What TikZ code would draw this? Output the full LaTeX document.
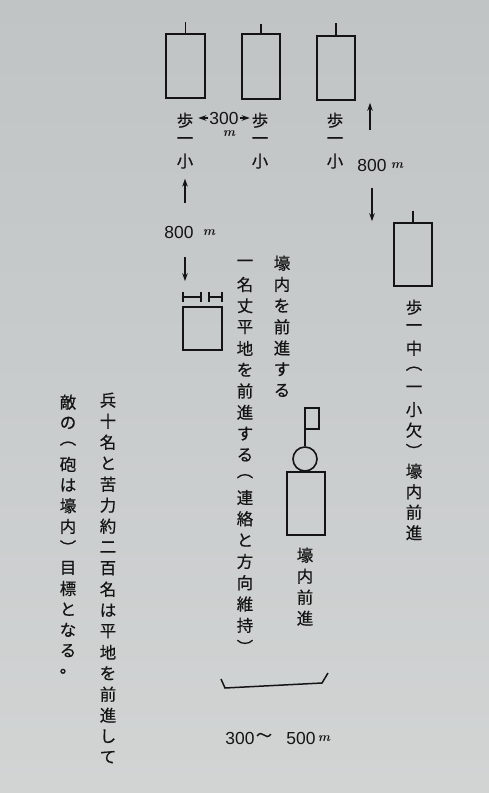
\documentclass[tikz,border=0pt]{standalone}
\usepackage{fontspec}
\newfontfamily\cjk[FakeBold=0.5]{Noto Sans CJK JP}
\newfontfamily\numf{Liberation Sans}
\usetikzlibrary{arrows.meta}
\definecolor{paperT}{RGB}{192,196,197}
\definecolor{paperB}{RGB}{210,212,212}
\definecolor{ink}{RGB}{20,20,20}
\newdimen\vtpitch
\def\vtloop#1{\ifx#1\relax\else\hbox to 1.1em{\hss\vbox to \vtpitch{\vss\hbox{#1}\vss}\hss}\expandafter\vtloop\fi}
\newcommand\vtext[2][21bp]{\vtpitch=#1\relax\vbox{\offinterlineskip\vtloop#2\relax}}
\tikzset{
  unit/.style={draw=ink, line width=1.6bp, inner sep=0},
  vlab/.style={inner sep=0, anchor=north, text=ink, font=\cjk\fontsize{16.5}{16.5}\selectfont},
  num/.style={inner sep=0, text=ink, font=\numf\fontsize{17.5}{17.5}\selectfont},
  unitm/.style={inner sep=0, text=ink, font=\bfseries\itshape\fontsize{13}{13}\selectfont},
  arr/.style={draw=ink, line width=1.6bp, -{Stealth[length=8bp,width=5.5bp]}},
  thinline/.style={draw=ink, line width=1.5bp},
}
\begin{document}
\begin{tikzpicture}[x=1bp,y=-1bp]
\useasboundingbox (0,0) rectangle (489,793);
\fill[top color=paperT, bottom color=paperB] (0,0) rectangle (489,793);

% unit boxes
\node[unit, minimum width=39bp, minimum height=64bp] (b1) at (185.5,66) {};
\node[unit, minimum width=38bp, minimum height=65bp] (b2) at (261,66.5) {};
\node[unit, minimum width=38bp, minimum height=64bp] (b3) at (336,68) {};
\node[unit, minimum width=38bp, minimum height=63bp] (b4) at (413,254.5) {};
\node[unit, minimum width=39bp, minimum height=43bp] (b5) at (202.5,328.5) {};
\node[unit, minimum width=38bp, minimum height=63bp] (b6) at (306,503.5) {};
\draw[thinline] (b1.north) -- ++(0,-11);
\draw[thinline] (b2.north) -- ++(0,-9);
\draw[thinline] (b3.north) -- ++(0,-12);
\draw[thinline] (b4.north) -- ++(0,-11);

% marks above b5
\draw[thinline] (183,297) -- (201,297) (183,292) -- (183,302) (201,292) -- (201,302);
\draw[thinline] (209,297) -- (222,297) (209,292) -- (209,302) (222,292) -- (222,302);

% leader figure
\node[draw=ink, line width=1.6bp, circle, inner sep=0, minimum size=24bp] (head) at (305,459) {};
\draw[thinline] (head.north) -- ++(0,-38) -- ++(14,0) -- ++(0,21) -- ++(-14,0);

% labels under boxes
\node[vlab] (lab1) at (185,109.75) {\vtext[20.5bp]{歩一小}};
\node[vlab] (lab2) at (260,109.75) {\vtext[20.5bp]{歩一小}};
\node[vlab] (lab3) at (335,109.75) {\vtext[20.5bp]{歩一小}};
\node[vlab] (lab4) at (414,296.75) {\vtext[20.5bp]{歩一中︵一小欠︶壕内前進}};
\node[vlab] (lab6) at (305,544.5) {\vtext[21bp]{壕内前進}};
\node[vlab] (m1) at (282,252.4) {\vtext[21.2bp]{壕内を前進する}};
\node[vlab] (m2) at (245,252.35) {\vtext[21.3bp]{一名丈平地を前進する︵連絡と方向維持︶}};
\node[vlab] (left1) at (108,389.5) {\vtext[21bp]{兵十名と苦力約二百名は平地を前進して}};
\node[vlab] (left2) at (68,391.65) {\vtext[20.7bp]{敵の︵砲は壕内︶目標となる。}};

% 300 m between columns
\node[num] (n300) at (224,118) {300};
\node[unitm] (m300) at (229,134) {m};
\draw[arr, shorten >=4bp, shorten <=1bp] (n300.west) -- (n300.west -| lab1.east);
\draw[arr, shorten >=1bp, shorten <=1bp] (n300.east) -- (n300.east -| lab2.west);

% 800 m left
\node[num] (n800L) at (179,232) {800};
\node[unitm] (m800L) at (209,233) {m};
\coordinate (uL) at (185,203);
\coordinate (dL) at (185,257);
\draw[arr, shorten >=7bp] (uL) -- (uL |- lab1.south);
\draw[arr, shorten >=25bp] (dL) -- (dL |- b5.north);

% 800 m right
\node[num] (n800R) at (372,165) {800};
\node[unitm] (m800R) at (397,166) {m};
\coordinate (uR) at (370,130);
\coordinate (dR) at (372,188);
\draw[arr, shorten >=2bp] (uR) -- (uR |- b3.south);
\draw[arr, shorten >=1bp] (dR) -- (dR |- b4.north);

% front line bracket and range
\draw[thinline] (221,679) -- (225,688) -- (322,683) -- (328,673);
\node[num] (r300) at (240,738) {300};
\node[inner sep=0, text=ink, font=\cjk\fontsize{16}{16}\selectfont] (rtil) at (264,737) {～};
\node[num] (r500) at (301,738) {500};
\node[unitm] (rm) at (324,739) {m};
\end{tikzpicture}
\end{document}
